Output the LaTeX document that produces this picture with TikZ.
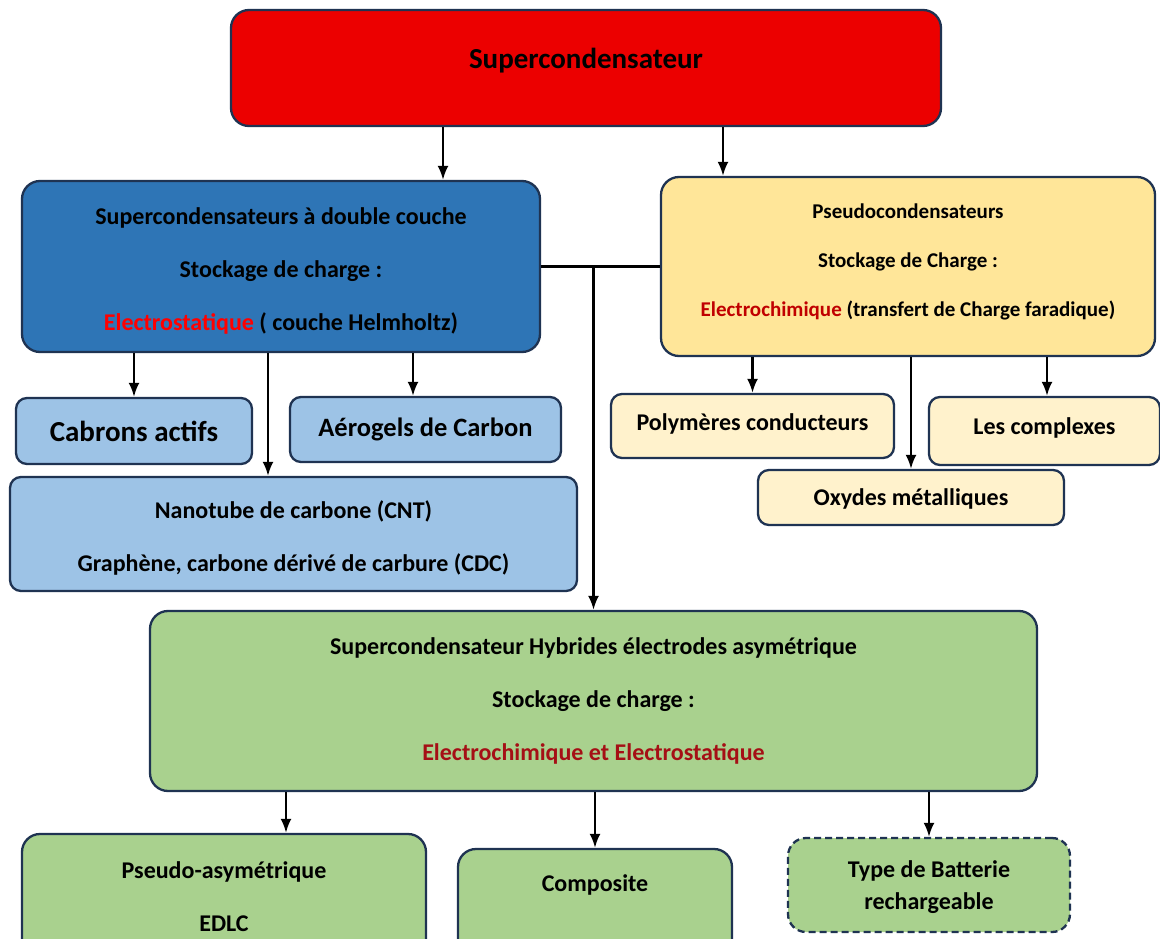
\documentclass[tikz,border=0pt]{standalone}
\usepackage{fontspec}
\setmainfont{Carlito}
\usetikzlibrary{arrows.meta}
\definecolor{edge}{HTML}{1F3352}
\definecolor{topred}{HTML}{EC0000}
\definecolor{dblblue}{HTML}{2E75B6}
\definecolor{lightblue}{HTML}{9DC3E6}
\definecolor{pseudoyel}{HTML}{FFE699}
\definecolor{lightyel}{HTML}{FFF2CC}
\definecolor{hybgreen}{HTML}{A9D18E}
\definecolor{txtred}{HTML}{FF0000}
\definecolor{darkred}{HTML}{C00000}
\definecolor{hybred}{HTML}{A50F15}

\begin{document}
\begin{tikzpicture}[x=1pt,y=-1pt,>={Latex[length=14pt,width=11pt]},
    box/.style={draw=edge, line width=2.3pt, rounded corners=18pt, align=center,
      inner sep=0pt, font=\bfseries\fontsize{24}{53}\selectfont},
    smallbox/.style={box, rounded corners=11pt},
    link/.style={->, line width=2.3pt}]
  \clip (0,0) rectangle (1160,939);
  \fill[white] (0,0) rectangle (1160,939);

  % top level
  \node[box, fill=topred, minimum width=710, minimum height=116, text depth=20pt,
    font=\bfseries\fontsize{29}{30}\selectfont] (sup) at (586,68) {Supercondensateur};

  % double couche
  \node[box, fill=dblblue, minimum width=518, minimum height=171] (dbl) at (281,266.5)
    {\rule{0pt}{26pt}Supercondensateurs à double couche\\ Stockage de charge :\\
     \textcolor{txtred}{Electrostatique} ( couche Helmholtz)};
  \node[smallbox, fill=lightblue, minimum width=236, minimum height=66,
    font=\bfseries\fontsize{29}{30}\selectfont] (cab) at (134,431) {Cabrons actifs};
  \node[smallbox, fill=lightblue, minimum width=271, minimum height=65,
    font=\bfseries\fontsize{26.5}{30}\selectfont] (aero) at (425.5,429.5) {Aérogels de Carbon};
  \node[smallbox, fill=lightblue, minimum width=567, minimum height=114] (cnt) at (293.5,534)
    {\rule{0pt}{25pt}Nanotube de carbone (CNT)\\ Graphène, carbone dérivé de carbure (CDC)};

  % pseudo
  \node[box, fill=pseudoyel, minimum width=494, minimum height=179, text depth=12pt,
    font=\bfseries\fontsize{21}{49}\selectfont] (pse) at (908,266.5)
    {Pseudocondensateurs\\ Stockage de Charge :\\
     \textcolor{darkred}{Electrochimique} (transfert de Charge faradique)};
  \node[smallbox, fill=lightyel, minimum width=283, minimum height=64, text depth=8pt] (poly) at (752.5,426)
    {Polymères conducteurs};
  \node[smallbox, fill=lightyel, minimum width=231, minimum height=68, text depth=10pt] (cplx) at (1044.5,431)
    {Les complexes};
  \node[smallbox, fill=lightyel, minimum width=306, minimum height=55, text depth=0pt] (oxy) at (911,497.5)
    {Oxydes métalliques};

  % hybrides
  \node[box, fill=hybgreen, minimum width=887, minimum height=180] (hyb) at (593.5,701)
    {Supercondensateur Hybrides électrodes asymétrique\\ Stockage de charge :\\
     \textcolor{hybred}{Electrochimique et Electrostatique}};
  \node[box, fill=hybgreen, minimum width=404, minimum height=126] (pasy) at (224,897)
    {\rule{0pt}{13pt}Pseudo-asymétrique\\ EDLC};
  \node[box, fill=hybgreen, minimum width=274, minimum height=116, text depth=48pt] (comp) at (595,907)
    {Composite};
  \node[box, fill=hybgreen, dash pattern=on 7pt off 4pt, minimum width=282, minimum height=94,
    font=\bfseries\fontsize{24}{32}\selectfont] (batt) at (929,885)
    {\rule{0pt}{22pt}Type de Batterie\\ rechargeable};

  % connectors
  \draw[link] (sup.south -| 443,0) -- (dbl.north -| 443,0);
  \draw[link] (sup.south -| 723,0) -- (pse.north -| 723,0);
  \draw[link] (dbl.south -| cab.north) -- (cab.north);
  \draw[link] (dbl.south -| 413,0) -- (aero.north -| 413,0);
  \draw[link] (dbl.south -| 268,0) -- (cnt.north -| 268,0);
  \draw[line width=2.3pt] (dbl.east) -- (pse.west);
  \draw[link] (dbl.east -| hyb.north) -- (hyb.north);
  \draw[link] (pse.south -| poly.north) -- (poly.north);
  \draw[link] (pse.south -| oxy.north) -- (oxy.north);
  \draw[link] (pse.south -| 1047,0) -- (cplx.north -| 1047,0);
  \draw[link] (hyb.south -| 286,0) -- (pasy.north -| 286,0);
  \draw[link] (hyb.south -| comp.north) -- (comp.north);
  \draw[link] (hyb.south -| batt.north) -- (batt.north);
\end{tikzpicture}
\end{document}
